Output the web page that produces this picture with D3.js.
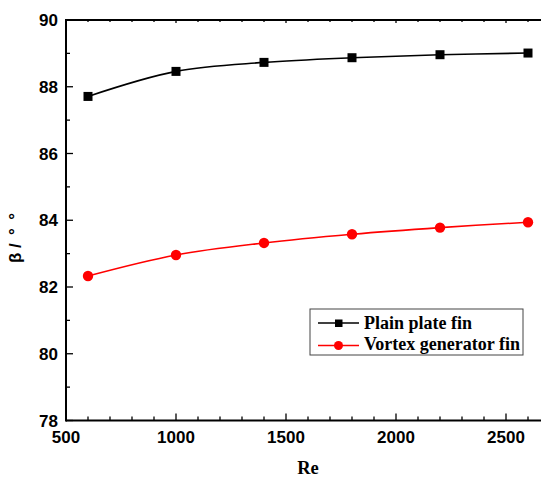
<!DOCTYPE html>
<html>
<head>
<meta charset="utf-8">
<script src="https://cdn.jsdelivr.net/npm/d3@7"></script>
<style>
  body { margin: 0; background: #fff; }
  svg { display: block; }
  .tick-lbl { font-family: "Liberation Sans", Arial, sans-serif; font-weight: bold; font-size: 17px; }
  .serif { font-family: "Liberation Serif", "Times New Roman", serif; font-weight: bold; }
</style>
</head>
<body>
<div id="chart"></div>
<script>
// data
var reValues = [600, 1000, 1400, 1800, 2200, 2600];
var plainFin = [87.71, 88.46, 88.73, 88.87, 88.96, 89.01];
var vortexFin = [82.33, 82.96, 83.32, 83.58, 83.78, 83.94];
var seriesNames = ["Plain plate fin", "Vortex generator fin"];
var xTicks = [500, 1000, 1500, 2000, 2500];
var yTicks = [78, 80, 82, 84, 86, 88, 90];

var W = 541, H = 478;
var pLeft = 66, pRight = 550, pTop = 20, pBottom = 420.5;

var svg = d3.select("#chart").append("svg")
    .attr("width", W).attr("height", H);

var x = d3.scaleLinear().domain([500, 2700]).range([pLeft, pRight]);
var y = d3.scaleLinear().domain([78, 90]).range([pBottom, pTop]);

// minor ticks
var xMinor = d3.range(500, 2701, 100);
var yMinor = d3.range(78, 90.01, 1);

// bottom axis ticks (inward)
svg.selectAll(".xmin").data(xMinor).enter().append("line")
    .attr("x1", d => x(d)).attr("x2", d => x(d))
    .attr("y1", pBottom).attr("y2", d => pBottom - (d % 500 == 0 ? 7 : 4))
    .attr("stroke", "#000").attr("stroke-width", 1.3);
// top axis ticks (inward)
svg.selectAll(".xtop").data(xMinor).enter().append("line")
    .attr("x1", d => x(d)).attr("x2", d => x(d))
    .attr("y1", pTop).attr("y2", d => pTop + (d % 500 == 0 ? 3 : 2))
    .attr("stroke", "#000").attr("stroke-width", 1.3);
// left axis ticks
svg.selectAll(".ymin").data(yMinor).enter().append("line")
    .attr("y1", d => y(d)).attr("y2", d => y(d))
    .attr("x1", pLeft).attr("x2", d => pLeft + (d % 2 == 0 ? 7 : 4))
    .attr("stroke", "#000").attr("stroke-width", 1.3);

// frame lines
svg.append("line").attr("x1", pLeft).attr("x2", W).attr("y1", pBottom).attr("y2", pBottom)
    .attr("stroke", "#000").attr("stroke-width", 2);
svg.append("line").attr("x1", pLeft).attr("x2", W).attr("y1", pTop).attr("y2", pTop)
    .attr("stroke", "#000").attr("stroke-width", 2);
svg.append("line").attr("x1", pLeft).attr("x2", pLeft).attr("y1", pTop - 1).attr("y2", pBottom + 1)
    .attr("stroke", "#000").attr("stroke-width", 2);

// tick labels
svg.selectAll(".xl").data(xTicks).enter().append("text")
    .attr("class", "tick-lbl")
    .attr("x", d => x(d)).attr("y", pBottom + 22.5)
    .attr("text-anchor", "middle").text(d => d);
svg.selectAll(".yl").data(yTicks).enter().append("text")
    .attr("class", "tick-lbl")
    .attr("x", pLeft - 8).attr("y", d => y(d) + 6)
    .attr("text-anchor", "end").text(d => d);

// axis titles
svg.append("text").attr("class", "serif")
    .attr("x", 308).attr("y", 474).attr("font-size", 18.5)
    .attr("text-anchor", "middle").text("Re");
svg.append("text").attr("class", "tick-lbl")
    .attr("transform", "translate(21,238) rotate(-90)")
    .attr("text-anchor", "middle").attr("font-size", 17)
    .style("white-space", "pre")
    .text("β / \u2009°\u2002°");

// lines
var line = d3.line()
    .x((d, i) => x(reValues[i]))
    .y(d => y(d))
    .curve(d3.curveCatmullRom.alpha(0.5));

svg.append("path").datum(plainFin).attr("d", line)
    .attr("fill", "none").attr("stroke", "#000").attr("stroke-width", 1.6);
svg.append("path").datum(vortexFin).attr("d", line)
    .attr("fill", "none").attr("stroke", "#ff0000").attr("stroke-width", 1.6);

svg.selectAll(".sq").data(plainFin).enter().append("rect")
    .attr("x", (d, i) => x(reValues[i]) - 4.5).attr("y", d => y(d) - 4.5)
    .attr("width", 9).attr("height", 9).attr("fill", "#000");
svg.selectAll(".ci").data(vortexFin).enter().append("circle")
    .attr("cx", (d, i) => x(reValues[i])).attr("cy", d => y(d))
    .attr("r", 5.2).attr("fill", "#ff0000");

// legend
var lg = svg.append("g").attr("transform", "translate(310,309)");
lg.append("rect").attr("width", 213).attr("height", 46)
    .attr("fill", "#fff").attr("stroke", "#444").attr("stroke-width", 1);
lg.append("line").attr("x1", 8).attr("x2", 49).attr("y1", 14).attr("y2", 14)
    .attr("stroke", "#000").attr("stroke-width", 1.6);
lg.append("rect").attr("x", 25).attr("y", 10.5).attr("width", 7.5).attr("height", 7.5).attr("fill", "#000");
lg.append("line").attr("x1", 8).attr("x2", 49).attr("y1", 36.5).attr("y2", 36.5)
    .attr("stroke", "#ff0000").attr("stroke-width", 1.6);
lg.append("circle").attr("cx", 28.5).attr("cy", 36.5).attr("r", 4.5).attr("fill", "#ff0000");
lg.selectAll(".lt").data(seriesNames).enter().append("text")
    .attr("class", "serif").attr("font-size", 18)
    .attr("x", 54).attr("y", (d, i) => 19.5 + i * 21.5).text(d => d);
</script>
</body>
</html>
